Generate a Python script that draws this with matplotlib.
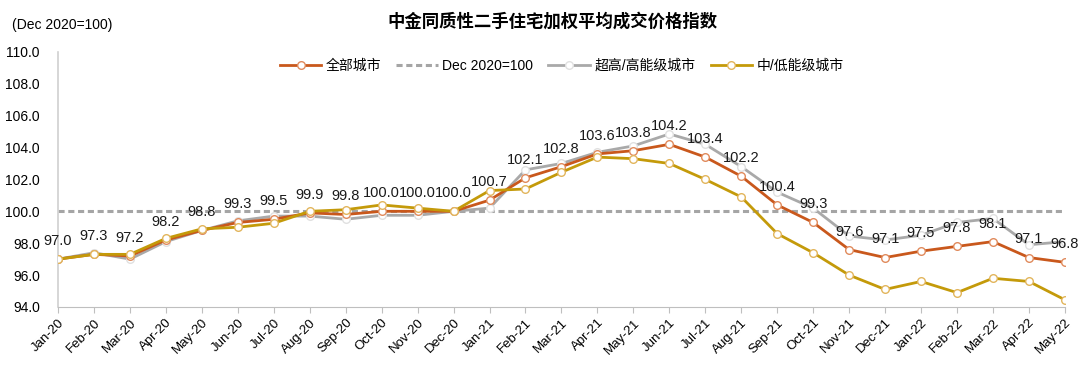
import numpy as np
import matplotlib
matplotlib.use("Agg")
import matplotlib.pyplot as plt

plt.rcParams['font.family'] = ['Liberation Sans', 'Noto Sans CJK SC', 'DejaVu Sans']

months = ['Jan-20', 'Feb-20', 'Mar-20', 'Apr-20', 'May-20', 'Jun-20', 'Jul-20',
          'Aug-20', 'Sep-20', 'Oct-20', 'Nov-20', 'Dec-20',
          'Jan-21', 'Feb-21', 'Mar-21', 'Apr-21', 'May-21', 'Jun-21', 'Jul-21',
          'Aug-21', 'Sep-21', 'Oct-21', 'Nov-21', 'Dec-21',
          'Jan-22', 'Feb-22', 'Mar-22', 'Apr-22', 'May-22']

# 全部城市
all_cities = [97.0, 97.3, 97.2, 98.2, 98.8, 99.3, 99.5, 99.9, 99.8, 100.0, 100.0, 100.0,
              100.7, 102.1, 102.8, 103.6, 103.8, 104.2, 103.4, 102.2, 100.4, 99.3,
              97.6, 97.1, 97.5, 97.8, 98.1, 97.1, 96.8]
# 超高/高能级城市
high_tier = [97.0, 97.4, 97.0, 98.1, 98.8, 99.4, 99.7, 99.7, 99.5, 99.75, 99.75, 100.0,
             100.2, 102.6, 103.0, 103.7, 104.1, 104.85, 104.2, 102.8, 101.2, 100.2,
             98.45, 98.2, 98.5, 99.3, 99.55, 97.9, 98.1]
# 中/低能级城市
low_tier = [97.0, 97.3, 97.3, 98.3, 98.9, 99.0, 99.25, 100.0, 100.1, 100.4, 100.2, 100.0,
            101.3, 101.4, 102.45, 103.4, 103.3, 103.0, 102.0, 100.9, 98.6, 97.4,
            96.0, 95.1, 95.6, 94.9, 95.8, 95.6, 94.45]
base = [100.0] * len(months)

c_all = '#C9581C'
c_high = '#A9A9A9'
c_low = '#C49A0A'

fig = plt.figure(figsize=(10.8, 3.73), dpi=100)
ax = fig.add_axes([0.0537, 0.177, 0.9323, 0.684])
x = np.arange(len(months))

mk = dict(marker='o', markersize=5.5, markerfacecolor='white', markeredgewidth=1.0)
ax.plot(x, all_cities, color=c_all, lw=2, label='全部城市', zorder=3,
        markeredgecolor='#E08A5C', **mk)
ax.plot(x, base, color='#A5A5A5', lw=2.2, ls=(0, (2.0, 1.2)), label='Dec 2020=100', zorder=2)
ax.plot(x, high_tier, color=c_high, lw=2, label='超高/高能级城市', zorder=2.5,
        markeredgecolor='#E0E0E0', **mk)
ax.plot(x, low_tier, color=c_low, lw=2, label='中/低能级城市', zorder=4,
        markeredgecolor='#E2B55C', **mk)

for xi, v in zip(x, all_cities):
    ax.annotate(f'{v:.1f}', (xi, v), xytext=(0, 13), textcoords='offset points',
                ha='center', va='center', fontsize=10.5, color='#1a1a1a', zorder=6)

ax.set_xlim(0, len(months) - 1)
ax.set_ylim(94, 110)
ax.set_yticks(np.arange(94, 110.1, 2))
ax.set_yticklabels([f'{v:.1f}' for v in np.arange(94, 110.1, 2)], fontsize=10)
ax.set_xticks(x)
ax.set_xticklabels(months, rotation=45, ha='right', rotation_mode='anchor', fontsize=9.5)
ax.tick_params(axis='y', length=0, pad=13)
ax.tick_params(axis='x', length=4, color='#BFBFBF', pad=3)
for s in ['top', 'right']:
    ax.spines[s].set_visible(False)
ax.spines['left'].set_color('#D0D0D0')
ax.spines['bottom'].set_color('#BFBFBF')
ax.spines['left'].set_linewidth(1.2)

fig.text(0.512, 0.945, '中金同质性二手住宅加权平均成交价格指数', ha='center', va='center',
         fontsize=12.5, fontweight='bold')
fig.text(0.011, 0.932, '(Dec 2020=100)', ha='left', va='center', fontsize=10)

fig.legend(loc='center', bbox_to_anchor=(0.52, 0.823), ncol=4, frameon=False,
           fontsize=10, handlelength=3.0, columnspacing=1.1, handletextpad=0.3)

fig.savefig('out.png', dpi=100)
